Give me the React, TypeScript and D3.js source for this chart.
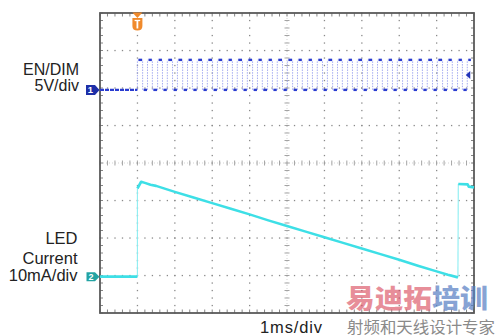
import React from "react";
import * as d3 from "d3";

// ---------- data ----------
// time axis: 10 divisions, 1 ms/div
const timeDomain = [0, 10];
const divisions = [0, 8];

// Channel 1 (EN/DIM, 5 V/div): PWM edges in ms
const ch1Levels = { low: 0, high: 4 };
const ch1Rise = [1.0, 1.27, 1.54, 1.8, 2.07, 2.34, 2.6, 2.87, 3.14, 3.41, 3.67, 3.94, 4.21, 4.48, 4.74, 5.01, 5.28, 5.55, 5.81, 6.08, 6.35, 6.62, 6.88, 7.15, 7.42, 7.69, 7.95, 8.22, 8.49, 8.75, 9.02, 9.29, 9.56, 9.82];
const ch1Fall = [1.14, 1.4, 1.67, 1.94, 2.21, 2.47, 2.74, 3.01, 3.28, 3.54, 3.81, 4.08, 4.34, 4.61, 4.88, 5.15, 5.41, 5.68, 5.95, 6.22, 6.48, 6.75, 7.02, 7.29, 7.55, 7.82, 8.09, 8.36, 8.62, 8.89, 9.16, 9.42, 9.69, 9.93];
const ch1Offset = 5.95; // ground position in divisions
const ch1Scale = 5; // V/div

// Channel 2 (LED current, 10 mA/div)
const ch2Time = [0, 1.0, 1.0, 1.1, 1.2, 1.35, 1.5, 2, 2.5, 3, 3.5, 4, 4.5, 5, 5.5, 6, 6.5, 7, 7.5, 8, 8.5, 9, 9.3, 9.57, 9.58, 9.83, 9.86, 10];
const ch2Current = [0, 0, 23.5, 25.3, 25.0, 24.5, 24.2, 22.6, 21.1, 19.6, 18.1, 16.6, 15.0, 13.5, 12.0, 10.5, 9.0, 7.5, 6.0, 4.5, 2.9, 1.4, 0.5, -0.2, 24.7, 24.6, 24.0, 23.8];
const ch2Offset = 0.97;
const ch2Scale = 10; // mA/div

const ch1Labels = ["EN/DIM", "5V/div"];
const ch2Labels = ["LED", "Current", "10mA/div"];
const timeLabel = "1ms/div";
const wmMain1 = "易迪拓";
const wmMain2 = "培训";
const wmSub = "射频和天线设计专家";

const W = 500;
const H = 336;
const FONT = "'Liberation Sans', Arial, sans-serif";

export default function App() {
  const x = d3.scaleLinear().domain(timeDomain).range([100, 474]);
  const y = d3.scaleLinear().domain(divisions).range([313, 13]);

  // grid
  const minorT = d3.range(0, 10.001, 0.2);
  const minorD = d3.range(0, 8.001, 0.2);
  const majorT = d3.range(1, 10);
  const majorD = d3.range(1, 8);

  const dots: JSX.Element[] = [];
  majorT.forEach((t) =>
    minorD.forEach((d, k) => {
      if (t === 5) return;
      dots.push(<rect key={`v${t}-${k}`} x={x(t) - 0.6} y={y(d) - 0.6} width={1.3} height={1.3} fill="#8a8a8a" />);
    })
  );
  majorD.forEach((d) =>
    minorT.forEach((t, k) => {
      if (d === 4) return;
      dots.push(<rect key={`h${d}-${k}`} x={x(t) - 0.6} y={y(d) - 0.6} width={1.3} height={1.3} fill="#8a8a8a" />);
    })
  );

  const ticks: JSX.Element[] = [];
  // center cross ticks
  minorT.forEach((t, k) =>
    ticks.push(<line key={`ct${k}`} x1={x(t)} x2={x(t)} y1={y(4) - 2.5} y2={y(4) + 2.5} stroke="#9a9a9a" strokeWidth={0.9} />)
  );
  minorD.forEach((d, k) =>
    ticks.push(<line key={`cd${k}`} x1={x(5) - 2.5} x2={x(5) + 2.5} y1={y(d)} y2={y(d)} stroke="#9a9a9a" strokeWidth={0.9} />)
  );
  ticks.push(<line key="cx" x1={x(0)} x2={x(10)} y1={y(4)} y2={y(4)} stroke="#b5b5b5" strokeWidth={0.6} strokeDasharray="1,2" />);
  ticks.push(<line key="cy" x1={x(5)} x2={x(5)} y1={y(0)} y2={y(8)} stroke="#b5b5b5" strokeWidth={0.6} strokeDasharray="1,2" />);
  // border ticks
  minorT.forEach((t, k) => {
    ticks.push(<line key={`bt${k}`} x1={x(t)} x2={x(t)} y1={y(8)} y2={y(8) + 3.5} stroke="#777" strokeWidth={0.9} />);
    ticks.push(<line key={`bb${k}`} x1={x(t)} x2={x(t)} y1={y(0)} y2={y(0) - 3.5} stroke="#777" strokeWidth={0.9} />);
  });
  minorD.forEach((d, k) => {
    ticks.push(<line key={`bl${k}`} x1={x(0)} x2={x(0) + 3} y1={y(d)} y2={y(d)} stroke="#777" strokeWidth={0.9} />);
    ticks.push(<line key={`br${k}`} x1={x(10)} x2={x(10) - 3} y1={y(d)} y2={y(d)} stroke="#777" strokeWidth={0.9} />);
  });

  // channel 1 trace
  const y1 = (v: number) => y(v / ch1Scale + ch1Offset);
  const ch1H: JSX.Element[] = [];
  const ch1V: JSX.Element[] = [];
  ch1H.push(
    <line key="pre" x1={x(0)} x2={x(ch1Rise[0])} y1={y1(ch1Levels.low)} y2={y1(ch1Levels.low)} stroke="#2a3cd0" strokeWidth={2.4} strokeDasharray="4,1" />
  );
  ch1Rise.forEach((r, i) => {
    const f = ch1Fall[i];
    const next = i + 1 < ch1Rise.length ? ch1Rise[i + 1] : null;
    ch1V.push(<line key={`r${i}`} x1={x(r)} x2={x(r)} y1={y1(ch1Levels.low)} y2={y1(ch1Levels.high)} />);
    ch1H.push(<line key={`hh${i}`} x1={x(r) + 1} x2={x(f) - 0.5} y1={y1(ch1Levels.high)} y2={y1(ch1Levels.high)} />);
    if (next !== null) {
      ch1V.push(<line key={`f${i}`} x1={x(f)} x2={x(f)} y1={y1(ch1Levels.low)} y2={y1(ch1Levels.high)} />);
      ch1H.push(<line key={`ll${i}`} x1={x(f) + 1} x2={x(next) - 0.5} y1={y1(ch1Levels.low)} y2={y1(ch1Levels.low)} />);
    }
  });

  // channel 2 trace, split at jumps
  const y2 = (v: number) => y(v / ch2Scale + ch2Offset);
  const pts = ch2Time.map((t, i) => [x(t), y2(ch2Current[i])] as [number, number]);
  const runs: [number, number][][] = [];
  const jumps: [number, number][][] = [];
  let cur: [number, number][] = [pts[0]];
  for (let i = 1; i < pts.length; i++) {
    const dx = pts[i][0] - pts[i - 1][0];
    const dy = Math.abs(pts[i][1] - pts[i - 1][1]);
    if (dx < 1 && dy > 10) {
      runs.push(cur);
      jumps.push([pts[i - 1], pts[i]]);
      cur = [pts[i]];
    } else cur.push(pts[i]);
  }
  runs.push(cur);
  const line = d3.line<[number, number]>();

  const trigX = x(ch1Rise[0]);

  return (
    <svg width={W} height={H} style={{ position: "absolute", left: 0, top: 0, display: "block", background: "#fff" }}>
      <rect x={0} y={0} width={W} height={H} fill="#fff" />
      <g>{dots}</g>
      <g>{ticks}</g>
      <rect x={x(0)} y={y(8)} width={x(10) - x(0)} height={y(0) - y(8)} fill="none" stroke="#5a5a5a" strokeWidth={1.8} />

      {/* channel 1 */}
      <g stroke="#9aa2ee" strokeWidth={0.9} strokeDasharray="1.5,1.2">{ch1V}</g>
      <g stroke="#2a3cd0" strokeWidth={2.4}>{ch1H}</g>

      {/* channel 2 */}
      {jumps.map((j, i) => (
        <path key={`j${i}`} d={line(j) || ""} stroke="#8deef2" strokeWidth={1.1} fill="none" />
      ))}
      {runs.map((r, i) => (
        <path key={`r${i}`} d={line(r) || ""} stroke="#3ddfe6" strokeWidth={2.6} fill="none" strokeLinejoin="round" />
      ))}

      {/* trigger marker */}
      <g>
        <path d={`M${trigX - 5},12.5 L${trigX + 5},12.5 L${trigX},18 Z`} fill="#f08a2c" />
        <path d={`M${trigX - 5},18 L${trigX + 5},18 L${trigX + 5},26 Q${trigX + 5},30.5 ${trigX},30.5 Q${trigX - 5},30.5 ${trigX - 5},26 Z`} fill="#f08a2c" />
        <line x1={trigX} x2={trigX} y1={20} y2={28.5} stroke="#fff" strokeWidth={1.8} />
        <line x1={trigX - 2.8} x2={trigX + 2.8} y1={20.5} y2={20.5} stroke="#fff" strokeWidth={1.3} />
      </g>
      {/* trigger level marker */}
      <path d={`M${x(9.78)},${y1(2)} L${x(9.9)},${y1(2) - 4} L${x(9.9)},${y1(2) + 4} Z`} fill="#2233b8" />

      {/* channel markers */}
      <g>
        <path d={`M86,${y1(0) - 5} L95,${y1(0) - 5} L99.5,${y1(0)} L95,${y1(0) + 5} L86,${y1(0) + 5} Z`} fill="#1e2fa8" />
        <text x={90.5} y={y1(0) + 3.5} fontFamily={FONT} fontSize={9.5} fontWeight="bold" fill="#fff" textAnchor="middle">1</text>
        <path d={`M86.5,${y2(0) - 4.5} L95,${y2(0) - 4.5} L99.5,${y2(0)} L95,${y2(0) + 4.5} L86.5,${y2(0) + 4.5} Z`} fill="#23a3a3" />
        <text x={91} y={y2(0) + 3.4} fontFamily={FONT} fontSize={9} fontWeight="bold" fill="#fff" textAnchor="middle">2</text>
      </g>

      {/* labels */}
      <g fontFamily={FONT} fill="#222" textAnchor="end">
        <text x={79} y={75} fontSize={16}>{ch1Labels[0]}</text>
        <text x={79} y={91} fontSize={16}>{ch1Labels[1]}</text>
        <text x={77.5} y={243.5} fontSize={16.5}>{ch2Labels[0]}</text>
        <text x={77.5} y={264.3} fontSize={16.5}>{ch2Labels[1]}</text>
        <text x={77.5} y={281} fontSize={16.5}>{ch2Labels[2]}</text>
      </g>
      <text x={260} y={333} fontFamily={FONT} fontSize={16.5} fill="#222" textLength={62} lengthAdjust="spacing">{timeLabel}</text>

      {/* watermark */}
      <g fontFamily="'Noto Sans CJK SC', sans-serif" fontWeight={900}>
        <text x={346} y={307.5} fontSize={26} fill="#d94a5c" opacity={0.62} textLength={86} lengthAdjust="spacingAndGlyphs">{wmMain1}</text>
        <text x={432} y={307.5} fontSize={26} fill="#5a80c4" opacity={0.72} textLength={56} lengthAdjust="spacingAndGlyphs">{wmMain2}</text>
      </g>
      <text x={347} y={333} fontFamily="'Noto Sans CJK SC', sans-serif" fontSize={15.5} fill="#8a8a8a" textLength={148} lengthAdjust="spacingAndGlyphs">{wmSub}</text>
    </svg>
  );
}
